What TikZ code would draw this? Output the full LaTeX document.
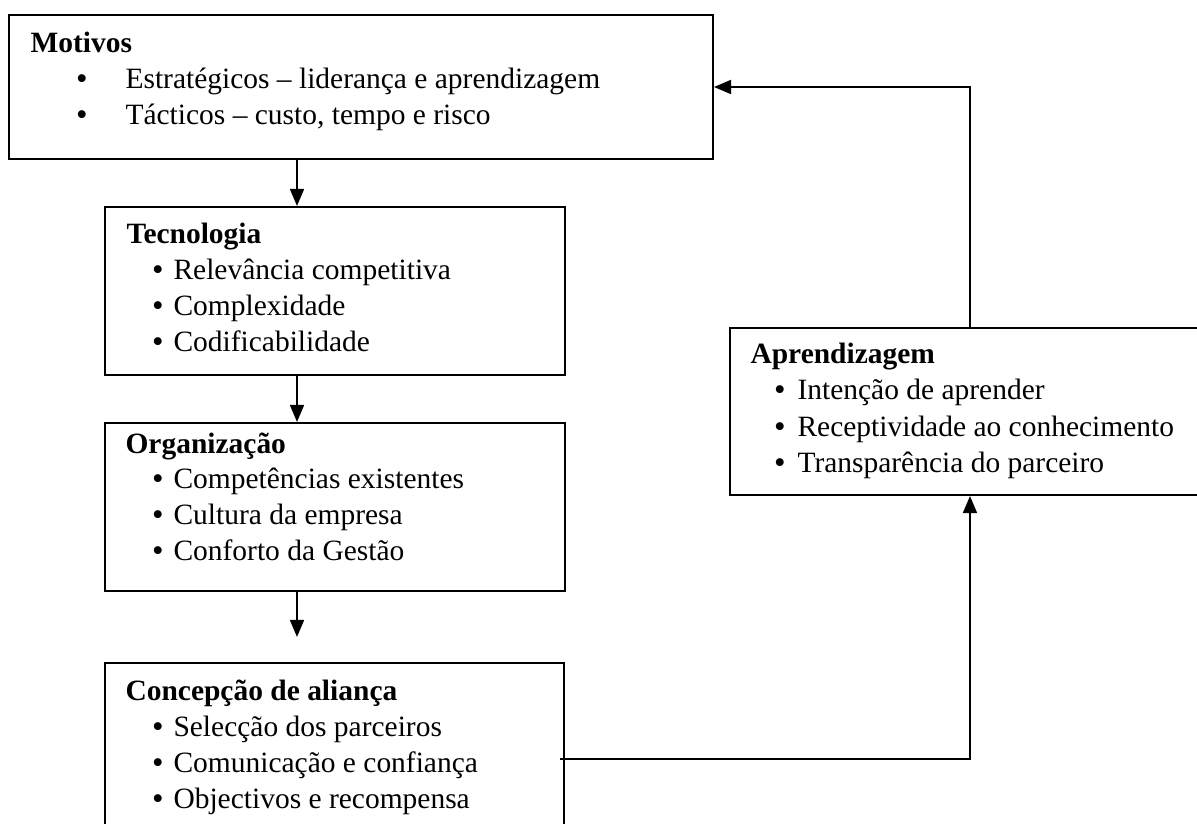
\documentclass[tikz,border=0pt]{standalone}
\usepackage{fontspec}
\setmainfont{Liberation Serif}
\usetikzlibrary{arrows.meta}
\tikzset{
  box/.style={draw, line width=0.75pt, rectangle, inner sep=0pt, anchor=north west},
  ttl/.style={anchor=base west, inner sep=0pt, font=\fontsize{11.2}{13}\selectfont\bfseries},
  itm/.style={anchor=base west, inner sep=0pt, font=\fontsize{11.2}{13}\selectfont},
  bul/.style={anchor=base, inner sep=0pt, yshift=-0.7pt, font=\fontsize{12.5}{13}\selectfont},
  link/.style={line width=0.75pt, -{Triangle[length=6.5pt,width=5.3pt]}},
}
\begin{document}
\begin{tikzpicture}[x=0.38pt,y=-0.38pt]
\clip (0,0) rectangle (1197,823);

% boxes
\node[box, minimum width=267.52pt, minimum height=54.72pt] (mot) at (8,14) {};
\node[box, minimum width=174.8pt, minimum height=63.84pt] (tec) at (104,206) {};
\node[box, minimum width=174.8pt, minimum height=63.84pt] (org) at (104,422) {};
\node[box, minimum width=174.42pt, minimum height=76pt] (con) at (104,662) {};
\node[box, minimum width=182.4pt, minimum height=63.46pt] (apr) at (729,327) {};

% Motivos
\node[ttl] (motT) at (30,52) {Motivos};
\node[bul] (motB1) at (82,88) {•};
\node[itm] (motI1) at (125,88) {Estratégicos – liderança e aprendizagem};
\node[bul] (motB2) at (82,124) {•};
\node[itm] (motI2) at (125,124) {Tácticos – custo, tempo e risco};

% Tecnologia
\node[ttl] (tecT) at (126,243) {Tecnologia};
\node[bul] (tecB1) at (158,279) {•};
\node[itm] (tecI1) at (173,279) {Relevância competitiva};
\node[bul] (tecB2) at (158,315) {•};
\node[itm] (tecI2) at (173,315) {Complexidade};
\node[bul] (tecB3) at (158,351) {•};
\node[itm] (tecI3) at (173,351) {Codificabilidade};

% Organização
\node[ttl] (orgT) at (125,453) {Organização};
\node[bul] (orgB1) at (158,488) {•};
\node[itm] (orgI1) at (173,488) {Competências existentes};
\node[bul] (orgB2) at (158,524) {•};
\node[itm] (orgI2) at (173,524) {Cultura da empresa};
\node[bul] (orgB3) at (158,560) {•};
\node[itm] (orgI3) at (173,560) {Conforto da Gestão};

% Concepção de aliança
\node[ttl] (conT) at (125,700) {Concepção de aliança};
\node[bul] (conB1) at (158,736) {•};
\node[itm] (conI1) at (173,736) {Selecção dos parceiros};
\node[bul] (conB2) at (158,772) {•};
\node[itm] (conI2) at (173,772) {Comunicação e confiança};
\node[bul] (conB3) at (158,808) {•};
\node[itm] (conI3) at (173,808) {Objectivos e recompensa};

% Aprendizagem
\node[ttl] (aprT) at (750,363) {Aprendizagem};
\node[bul] (aprB1) at (780,399) {•};
\node[itm] (aprI1) at (797,399) {Intenção de aprender};
\node[bul] (aprB2) at (780,436) {•};
\node[itm] (aprI2) at (797,436) {Receptividade ao conhecimento};
\node[bul] (aprB3) at (780,472) {•};
\node[itm] (aprI3) at (797,472) {Transparência do parceiro};

% connectors
\coordinate (ax) at (297,0);
\coordinate (ot) at (297,637);
\coordinate (cs) at (560,759);
\draw[link] (mot.south -| ax) -- (tec.north -| ax);
\draw[link] (tec.south -| ax) -- (org.north -| ax);
\draw[link] (org.south -| ax) -- (ot);
\draw[link] (cs) -| (apr.south);
\draw[link] (apr.north) |- (mot.east);
\end{tikzpicture}
\end{document}
